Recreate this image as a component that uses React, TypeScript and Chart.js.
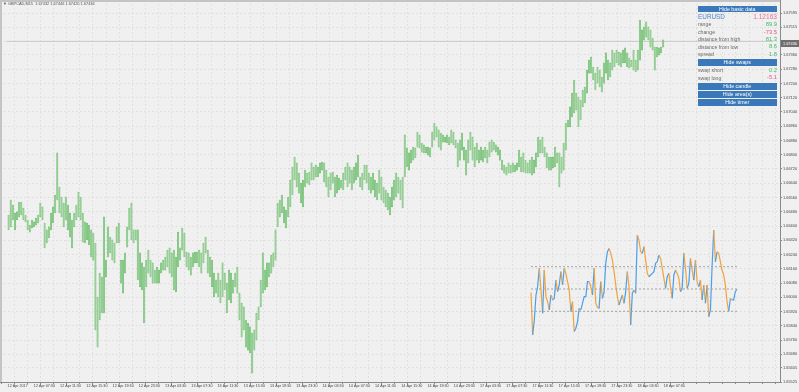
import React, { useEffect, useRef } from 'react';
import { Chart, registerables } from 'chart.js';
Chart.register(...registerables);

// ---- data ----
const barHighs = [
  1.66462,1.66546,1.66518,1.66473,1.66479,1.66535,1.66535,1.66501,1.66462,1.66434,
  1.66406,1.66434,1.66423,1.66445,1.66462,1.66529,1.66507,1.66417,1.66378,1.66395,
  1.66473,1.66507,1.66574,1.66810,1.66619,1.66563,1.66529,1.66563,1.66518,1.66473,
  1.66434,1.66473,1.66518,1.66591,1.66563,1.66473,1.66423,1.66417,1.66406,1.66378,
  1.66361,1.66305,1.66002,1.66136,1.66114,1.66451,1.66209,1.66395,1.66338,1.66322,
  1.66305,1.66395,1.66417,1.66209,1.66209,1.66249,1.66395,1.66501,1.66529,1.66378,
  1.66378,1.66378,1.66249,1.66193,1.66170,1.66209,1.66265,1.66209,1.66193,1.66153,
  1.66170,1.66153,1.66193,1.66209,1.66226,1.66265,1.66277,1.66249,1.66265,
  1.66226,1.66366,1.66277,1.66389,1.66361,1.66254,1.66249,1.66226,1.66249,1.66254,
  1.66254,1.66265,1.66249,1.66305,1.66338,1.66265,1.66226,1.66209,1.66136,1.66097,
  1.66136,1.66097,1.66193,1.66136,1.66080,1.66153,1.66136,1.66097,1.66136,1.66170,
  1.66024,1.65968,1.65946,1.65873,1.65856,1.65834,1.65800,1.65817,1.65912,1.65946,
  1.66097,1.66249,1.66153,1.66193,1.66193,1.66237,1.66249,1.66378,1.66529,1.66546,
  1.66574,1.66507,1.66490,1.66563,1.66658,1.66731,1.66787,1.66754,1.66697,1.66641,
  1.66658,1.66714,1.66697,1.66703,1.66754,1.66731,1.66742,1.66731,1.66754,1.66759,
  1.66754,1.66714,1.66675,1.66697,1.66703,1.66675,1.66686,1.66669,1.66658,1.66697,
  1.66731,1.66754,1.66731,1.66714,1.66731,1.66754,1.66798,1.66675,1.66697,1.66742,
  1.66742,1.66697,1.66675,1.66697,1.66658,1.66641,1.66714,1.66675,1.66619,1.66602,
  1.66585,1.66563,1.66619,1.66658,1.66697,1.66675,1.66658,1.66675,1.66911,1.66838,
  1.66810,1.66826,1.66843,1.66838,1.66927,1.66911,1.66866,1.66855,1.66843,1.66843,
  1.66838,1.66927,1.66978,1.66956,1.66939,1.66922,1.66911,1.66899,1.66911,1.66899,
  1.66939,1.66927,1.66883,1.66866,1.66883,1.66922,1.66843,1.66826,1.66883,1.66927,
  1.66899,1.66843,1.66866,1.66826,1.66843,1.66826,1.66843,1.66826,1.66871,1.66883,
  1.66871,1.66855,1.66843,1.66826,1.66770,1.66742,1.66731,1.66754,1.66742,1.66754,
  1.66742,1.66754,1.66826,1.66787,1.66810,1.66770,1.66754,1.66770,1.66787,1.66770,
  1.66810,1.66899,1.66883,1.66899,1.66843,1.66810,1.66787,1.66787,1.66787,1.66843,
  1.66810,1.66810,1.66787,1.66866,1.66978,1.66995,1.67068,1.67146,1.67219,1.67146,
  1.67124,1.67107,1.67163,1.67180,1.67275,1.67331,1.67348,1.67292,1.67258,1.67292,
  1.67275,1.67236,1.67315,1.67371,1.67331,1.67315,1.67387,1.67371,1.67387,1.67376,
  1.67371,1.67387,1.67399,1.67371,1.67343,1.67331,1.67387,1.67331,1.67387,1.67556,
  1.67500,1.67517,1.67545,1.67517,1.67500,1.67455,1.67404,1.67404,1.67399,1.67404,
  1.67444,
];

const barLows = [
  1.66378,1.66395,1.66434,1.66378,1.66434,1.66451,1.66462,1.66434,1.66423,1.66378,
  1.66366,1.66389,1.66395,1.66406,1.66417,1.66451,1.66434,1.66277,1.66305,1.66333,
  1.66378,1.66417,1.66473,1.66546,1.66473,1.66451,1.66395,1.66434,1.66378,1.66338,
  1.66277,1.66395,1.66434,1.66451,1.66434,1.66310,1.66305,1.66322,1.66294,1.66226,
  1.66209,1.65817,1.65721,1.65873,1.65912,1.65912,1.66114,1.66226,1.66249,1.66209,
  1.66193,1.66305,1.66305,1.66080,1.66024,1.66136,1.66282,1.66378,1.66322,1.66305,
  1.66322,1.66097,1.66058,1.66041,1.65856,1.66058,1.66136,1.66114,1.66080,1.66080,
  1.66080,1.66080,1.66136,1.66153,1.66153,1.66170,1.66136,1.66114,1.66041,
  1.66030,1.66170,1.66209,1.66265,1.66226,1.66170,1.66153,1.66125,1.66170,1.66193,
  1.66193,1.66170,1.66136,1.66193,1.66249,1.66136,1.66114,1.66058,1.66002,1.66024,
  1.66002,1.65968,1.66002,1.66041,1.65912,1.65985,1.65968,1.66024,1.66058,1.66024,
  1.65873,1.65777,1.65817,1.65721,1.65704,1.65688,1.65575,1.65704,1.65761,1.65873,
  1.65946,1.66024,1.66041,1.66058,1.66114,1.66136,1.66170,1.66209,1.66395,1.66451,
  1.66473,1.66417,1.66389,1.66451,1.66507,1.66574,1.66658,1.66619,1.66585,1.66529,
  1.66507,1.66619,1.66641,1.66630,1.66658,1.66658,1.66675,1.66675,1.66697,1.66714,
  1.66647,1.66619,1.66563,1.66602,1.66641,1.66563,1.66585,1.66602,1.66613,1.66602,
  1.66658,1.66619,1.66641,1.66602,1.66641,1.66658,1.66675,1.66619,1.66602,1.66658,
  1.66641,1.66602,1.66585,1.66602,1.66563,1.66546,1.66585,1.66546,1.66529,1.66507,
  1.66490,1.66462,1.66507,1.66546,1.66563,1.66585,1.66546,1.66501,1.66675,1.66731,
  1.66714,1.66754,1.66770,1.66782,1.66843,1.66838,1.66815,1.66810,1.66810,1.66798,
  1.66787,1.66843,1.66883,1.66899,1.66843,1.66826,1.66871,1.66871,1.66866,1.66855,
  1.66866,1.66855,1.66838,1.66731,1.66770,1.66826,1.66770,1.66686,1.66754,1.66826,
  1.66770,1.66731,1.66770,1.66754,1.66770,1.66759,1.66782,1.66754,1.66787,1.66815,
  1.66826,1.66815,1.66798,1.66770,1.66714,1.66697,1.66686,1.66697,1.66697,1.66703,
  1.66703,1.66714,1.66731,1.66703,1.66703,1.66697,1.66697,1.66697,1.66686,1.66697,
  1.66731,1.66787,1.66810,1.66810,1.66787,1.66726,1.66714,1.66714,1.66726,1.66731,
  1.66754,1.66619,1.66697,1.66714,1.66826,1.66956,1.66956,1.67012,1.67034,1.67051,
  1.66956,1.66995,1.67068,1.67090,1.67146,1.67258,1.67258,1.67219,1.67163,1.67202,
  1.67180,1.67152,1.67202,1.67258,1.67219,1.67236,1.67275,1.67292,1.67315,1.67303,
  1.67292,1.67315,1.67315,1.67292,1.67287,1.67292,1.67275,1.67264,1.67275,1.67331,
  1.67387,1.67444,1.67460,1.67444,1.67404,1.67387,1.67275,1.67348,1.67359,1.67371,
  1.67404,
];

const timeLabels = [
  '12 Apr 2017','12 Apr 07:30','12 Apr 11:30','12 Apr 15:30','12 Apr 19:30','12 Apr 23:30',
  '13 Apr 03:30','13 Apr 07:30','13 Apr 11:30','13 Apr 15:30','13 Apr 19:30','13 Apr 23:30',
  '14 Apr 03:30','14 Apr 07:30','14 Apr 11:30','14 Apr 15:30','14 Apr 19:30','14 Apr 23:30',
  '17 Apr 03:30','17 Apr 07:30','17 Apr 11:30','17 Apr 15:30','17 Apr 19:30','17 Apr 23:30',
  '18 Apr 03:30','18 Apr 07:30',
];

const priceTicks = [
  1.67595,1.67515,1.67435,1.67360,1.67280,1.67200,1.67120,1.67040,1.66960,1.66880,
  1.66800,1.66720,1.66640,1.66560,1.66480,1.66400,1.66320,1.66240,1.66160,1.66080,
  1.66000,1.65920,1.65840,1.65760,1.65680,1.65605,1.65525,
];
const priceMin = 1.65525;
const priceMax = 1.67668;
const lastPrice = 1.67436;

const titleText = 'GBPCAD,M15  1.67432 1.67446 1.67420 1.67436';

const oscValues = [
  -0.16,-2.06,-1.39,-0.27,0.10,0.93,-0.04,-1.09,0.85,-0.34,
  -0.57,-0.94,-0.27,-0.49,-0.42,0.40,-0.12,0.18,0.78,0.18,
  0.93,0.70,0.33,-0.04,-1.01,-0.57,-1.91,-1.76,-1.46,-0.87,
  -0.94,-0.64,-0.34,-0.34,0.33,0.33,0.10,-0.27,0.93,-0.64,
  -0.82,-0.87,0.33,-0.42,-0.12,1.15,1.67,1.82,1.60,1.30,
  0.78,0.18,-0.34,-0.72,-0.49,-0.27,-0.64,-0.12,0.78,0.10,
  -1.61,-0.19,-0.04,-0.19,2.42,2.19,1.67,1.60,1.90,1.30,
  0.70,0.55,0.63,0.70,0.78,1.15,1.22,1.52,1.37,0.93,
  0.48,0.03,0.55,0.70,0.10,-0.42,0.63,0.85,0.70,0.48,
  -0.12,0.03,1.60,0.93,0.03,0.25,1.37,0.85,0.40,1.30,
  0.33,0.10,0.40,-0.49,0.18,-0.64,0.18,-1.24,-0.94,1.00,
  2.64,1.22,1.67,1.60,1.22,0.85,0.63,0.18,-0.57,-1.01,
  -0.42,-0.49,-0.49,-0.12,-0.01,
];
const oscLevels = [1, 0, -1];

const infoSymbol = 'EURUSD';
const infoPrice = '1.12163';
const statLabels = ['range', 'change', 'distance from high', 'distance from low', 'spread'];
const statValues = ['89.9', '-73.5', '81.3', '8.6', '1.8'];
const swapLabels = ['swap short', 'swap long'];
const swapValues = ['0.2', '-5.1'];
const buttonLabels = ['Hide basic data', 'Hide swaps', 'Hide candle', 'Hide area(s)', 'Hide timer'];

// ---- layout / style constants ----
const W = 799, H = 392;
const PLOT_W = 780;
const BAR_STEP = 2.155;
const FIRST_BAR_PX = 2;
const X_MIN = -FIRST_BAR_PX / BAR_STEP;
const X_MAX = X_MIN + PLOT_W / BAR_STEP;
const LABEL_STEP_PX = 26.7;
const FONT = "'Liberation Sans', Arial, sans-serif";
const GREEN = '#44bb66';
const PINK = '#e6588a';
const BTN = '#3b78b9';
const GRID = '#dcdcdc';

function xGridValues(): number[] {
  const out: number[] = [];
  const half = LABEL_STEP_PX / 2 / BAR_STEP;
  const start = (1 - FIRST_BAR_PX) / BAR_STEP;
  for (let v = start; v < X_MAX - 0.5; v += half) out.push(v);
  return out;
}

export default function App() {
  const mainRef = useRef<HTMLCanvasElement>(null);
  const oscRef = useRef<HTMLCanvasElement>(null);

  useEffect(() => {
    document.body.style.margin = '0';
    const gridVals = xGridValues();
    const frame = {
      id: 'frame',
      afterDraw(c: any) {
        const { ctx, chartArea: a } = c;
        ctx.save();
        ctx.strokeStyle = '#c4c4c4';
        ctx.lineWidth = 2;
        ctx.beginPath();
        ctx.moveTo(a.left + 1, a.bottom);
        ctx.lineTo(a.left + 1, a.top + 1);
        ctx.lineTo(a.right, a.top + 1);
        ctx.stroke();
        ctx.restore();
      },
    };
    const main = new Chart(mainRef.current!, {
      type: 'bar',
      data: {
        datasets: [
          {
            type: 'bar',
            data: barHighs.map((h, i) => ({ x: i, y: [barLows[i], h] })) as any,
            backgroundColor: 'rgba(160,216,160,0.65)',
            borderColor: 'rgba(95,180,95,0.9)',
            borderWidth: 0.45,
            borderSkipped: false,
            barThickness: 1.4,
            order: 1,
          } as any,
          {
            type: 'line',
            data: [{ x: X_MIN, y: lastPrice }, { x: X_MAX, y: lastPrice }] as any,
            borderColor: '#c8c8c8',
            borderWidth: 1,
            pointRadius: 0,
            order: 2,
          } as any,
        ],
      },
      options: {
        responsive: false,
        animation: false,
        devicePixelRatio: 1,
        layout: { padding: 0 },
        plugins: { legend: { display: false }, tooltip: { enabled: false }, title: { display: false } },
        scales: {
          x: {
            type: 'linear',
            min: X_MIN,
            max: X_MAX,
            position: 'bottom',
            afterBuildTicks: (s: any) => { s.ticks = gridVals.map((v) => ({ value: v })); },
            afterFit: (s: any) => { s.height = 10; s.paddingLeft = 0; s.paddingRight = 0; },
            ticks: {
              autoSkip: false, maxRotation: 0, minRotation: 0, align: 'start', padding: 0,
              color: '#444', font: { size: 3.7, family: FONT },
              callback: (_v: any, i: number) => (i % 2 === 0 ? timeLabels[i / 2] ?? '' : ''),
            },
            grid: { color: GRID, tickColor: '#8a8a8a', tickLength: 2, tickBorderDash: [] },
            border: { display: true, color: '#8a8a8a', width: 1, dash: [1.5, 2.5] },
          } as any,
          y: {
            type: 'linear',
            position: 'right',
            min: priceMin,
            max: priceMax,
            afterBuildTicks: (s: any) => { s.ticks = priceTicks.map((v) => ({ value: v })); },
            afterFit: (s: any) => { s.width = W - PLOT_W; s.paddingTop = 0; s.paddingBottom = 0; },
            ticks: {
              padding: 1, color: '#444', font: { size: 3.9, family: FONT },
              callback: (v: any) => Number(v).toFixed(5),
            },
            grid: { color: GRID, tickColor: '#8a8a8a', tickLength: 2, tickBorderDash: [] },
            border: { display: true, color: '#8a8a8a', width: 1, dash: [1.5, 2.5] },
          } as any,
        },
      },
      plugins: [frame],
    });

    const L = oscValues.length;
    const step = 206 / (L - 1);
    const oxMin = -5 / step;
    const oxMax = oxMin + 216 / step;
    const osc = new Chart(oscRef.current!, {
      type: 'line',
      data: {
        datasets: [
          ...oscLevels.map((lv) => ({
            data: [{ x: 0, y: lv }, { x: L - 1, y: lv }],
            borderColor: '#a4a4a4',
            borderWidth: 1,
            borderDash: [2, 2],
            pointRadius: 0,
          })),
          {
            data: oscValues.map((v, i) => ({ x: i, y: v })),
            borderColor: '#f2a23c',
            borderWidth: 1.2,
            pointRadius: 0,
            tension: 0,
            segment: {
              borderColor: (ctx: any) => (ctx.p1.parsed.y >= ctx.p0.parsed.y ? '#4a9fe8' : '#f2a23c'),
            },
          },
        ] as any,
      },
      options: {
        responsive: false,
        animation: false,
        devicePixelRatio: 1,
        layout: { padding: 0 },
        plugins: { legend: { display: false }, tooltip: { enabled: false } },
        scales: {
          x: { type: 'linear', min: oxMin, max: oxMax, display: false },
          y: { type: 'linear', min: (289 - 344) / 22.3, max: (289 - 218) / 22.3, display: false },
        },
      },
    });

    return () => { main.destroy(); osc.destroy(); };
  }, []);

  const rowText = (top: number, h: number, left: React.ReactNode, right: React.ReactNode, key: string) => (
    <div key={key} style={{ position: 'absolute', left: 698, width: 79, top: top - h / 2, height: h, display: 'flex', justifyContent: 'space-between', alignItems: 'center', lineHeight: 1, whiteSpace: 'nowrap' }}>
      {left}
      {right}
    </div>
  );
  const btn = (top: number, label: string) => (
    <div key={label} style={{ position: 'absolute', left: 697.5, width: 79.5, top, height: 6.5, background: BTN, color: '#fff', fontSize: 5.3, lineHeight: '6.5px', textAlign: 'center', whiteSpace: 'nowrap' }}>{label}</div>
  );
  const statY = [25, 32.5, 40, 47.3, 54.5];
  const swapY = [70.7, 78.3];
  const btnTops = [5.7, 59.2, 83.2, 91, 99];

  return (
    <div style={{ position: 'fixed', left: 0, top: 0, width: W, height: H, background: '#f0f0f0', overflow: 'hidden', fontFamily: FONT }}>
      <canvas ref={mainRef} width={W} height={H} style={{ position: 'absolute', left: 0, top: 0 }} />
      <canvas ref={oscRef} width={216} height={126} style={{ position: 'absolute', left: 526, top: 218 }} />
      <div style={{ position: 'absolute', left: 3, top: 2, fontSize: 3.9, lineHeight: 1, color: '#555', whiteSpace: 'pre' }}>{'▼ ' + titleText}</div>
      <div style={{ position: 'absolute', left: 781, top: 39.5, width: 18, height: 7, background: '#6e6e6e', color: '#fff', fontSize: 3.9, lineHeight: '7px', textAlign: 'center' }}>{lastPrice.toFixed(5)}</div>
      {btn(btnTops[0], buttonLabels[0])}
      {rowText(17.3, 7, <span style={{ fontSize: 6.4, color: '#4f86c6' }}>{infoSymbol}</span>, <span style={{ fontSize: 6.6, color: '#e8709c' }}>{infoPrice}</span>, 'sym')}
      {statLabels.map((l, i) => rowText(statY[i], 6, <span style={{ fontSize: 5.2, color: '#6a6a6a' }}>{l}</span>, <span style={{ fontSize: 5.8, color: statValues[i].startsWith('-') ? PINK : GREEN }}>{statValues[i]}</span>, 's' + i))}
      {btn(btnTops[1], buttonLabels[1])}
      {swapLabels.map((l, i) => rowText(swapY[i], 6, <span style={{ fontSize: 5.2, color: '#6a6a6a' }}>{l}</span>, <span style={{ fontSize: 5.8, color: swapValues[i].startsWith('-') ? PINK : GREEN }}>{swapValues[i]}</span>, 'w' + i))}
      {btn(btnTops[2], buttonLabels[2])}
      {btn(btnTops[3], buttonLabels[3])}
      {btn(btnTops[4], buttonLabels[4])}
    </div>
  );
}
